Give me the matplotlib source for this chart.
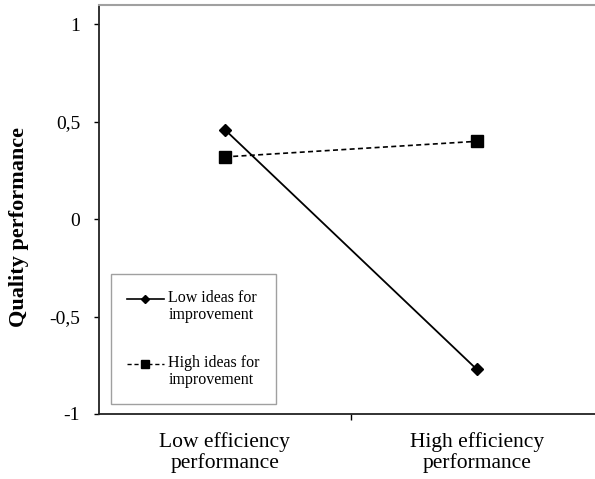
import numpy as np
import matplotlib.pyplot as plt
from matplotlib.lines import Line2D

plt.rcParams['font.family'] = ['Liberation Serif', 'DejaVu Serif']

categories = ['Low efficiency\nperformance', 'High efficiency\nperformance']
series_names = ['Low ideas for\nimprovement', 'High ideas for\nimprovement']
low_ideas = [0.46, -0.77]
high_ideas = [0.32, 0.40]
ytick_vals = [-1, -0.5, 0, 0.5, 1]
ytick_labels = ['-1', '-0,5', '0', '0,5', '1']

fig = plt.figure(figsize=(5.95, 4.79), dpi=100)
ax = fig.add_axes([99/595, 1-414/479, 503.5/595, 409/479])

x = list(range(len(categories)))
ax.plot(x, low_ideas, color='black', lw=1.3, marker='D', ms=6)
ax.plot(x, high_ideas, color='black', lw=1.2, ls=(0, (3, 2)), marker='s', ms=8)

ax.set_xlim(-0.5, 1.5)
ax.set_ylim(-1, 1.1)
ax.set_yticks(ytick_vals)
ax.set_yticklabels(ytick_labels, fontsize=14)
ax.set_xticks(x)
ax.set_xticklabels(categories, fontsize=15.5, linespacing=1.1)
ax.set_xticks([0.5], minor=True)
ax.tick_params(axis='x', which='major', length=0, pad=13)
ax.tick_params(axis='x', which='minor', length=4, direction='out', width=1)
ax.tick_params(axis='y', length=3.5, direction='out', width=1, pad=10)

ax.spines['top'].set_color('#a0a0a0')
ax.spines['top'].set_linewidth(1.5)
ax.spines['right'].set_visible(False)
for s in ['left', 'bottom']:
    ax.spines[s].set_linewidth(1.3)
    ax.spines[s].set_color('#222222')
ax.set_ylabel('Quality performance', fontsize=16, fontweight='bold')
ax.yaxis.set_label_coords(-0.139, 0.458)

handles = [Line2D([], [], color='black', lw=1.2, marker='D', ms=4),
           Line2D([], [], color='black', lw=1.0, ls=(0, (3, 2)), marker='s', ms=6)]
leg = ax.legend(handles, series_names, loc='upper left',
                bbox_to_anchor=(111/595, 1-274/479), bbox_transform=fig.transFigure,
                fontsize=11.5, frameon=True, fancybox=False, handlelength=2.3,
                handletextpad=0.3, labelspacing=2.0,
                borderpad=1.0, borderaxespad=0, numpoints=1)
leg.get_frame().set_edgecolor('#888888')
leg.get_frame().set_linewidth(1.0)
for t in leg.get_texts():
    t.set_linespacing(1.1)
# put the legend line level with the first text line
for h in leg.legend_handles:
    h.set_ydata(np.asarray(h.get_ydata()) + 6)

fig.savefig('out.png', dpi=100)
